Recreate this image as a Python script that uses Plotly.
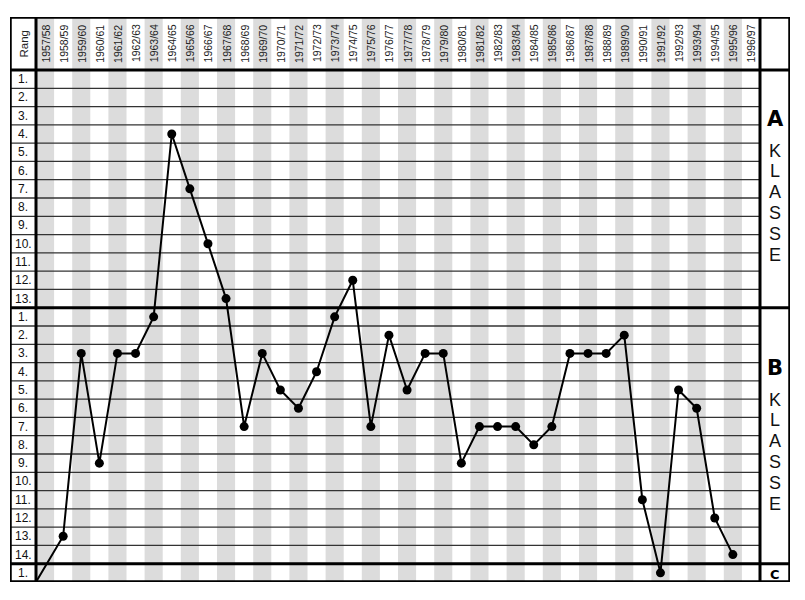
import plotly.graph_objects as go

seasons = ["1957/58", "1958/59", "1959/60", "1960/61", "1961/62", "1962/63", "1963/64",
           "1964/65", "1965/66", "1966/67", "1967/68", "1968/69", "1969/70", "1970/71",
           "1971/72", "1972/73", "1973/74", "1974/75", "1975/76", "1976/77", "1977/78",
           "1978/79", "1979/80", "1980/81", "1981/82", "1982/83", "1983/84", "1984/85",
           "1985/86", "1986/87", "1987/88", "1988/89", "1989/90", "1990/91", "1991/92",
           "1992/93", "1993/94", "1994/95", "1995/96", "1996/97"]
klasse = ["C", "B", "B", "B", "B", "B", "B",
          "A", "A", "A", "A", "B", "B", "B",
          "B", "B", "B", "A", "B", "B", "B",
          "B", "B", "B", "B", "B", "B", "B",
          "B", "B", "B", "B", "B", "B", "C",
          "B", "B", "B", "B", None]
rang = [1, 13, 3, 9, 3, 3, 1,
        4, 7, 10, 13, 7, 3, 5,
        6, 4, 1, 12, 7, 2, 5,
        3, 3, 9, 7, 7, 7, 8,
        7, 3, 3, 3, 2, 11, 1,
        5, 6, 12, 14, None]
class_sizes = {"A": 13, "B": 14, "C": 1}
class_order = ["A", "B", "C"]

# row index for each class/rank (row 1 = A 1.)
offsets = {}
acc = 0
for k in class_order:
    offsets[k] = acc
    acc += class_sizes[k]
n_rows = acc
n_cols = len(seasons)

def row_of(k, r):
    return offsets[k] + r

# geometry in data units
col_px = 724 / n_cols
row_px = 512 / n_rows
x_left = -0.5 - 26 / col_px
x_right = n_cols - 0.5 + 30 / col_px
y_top = 0.5 - 53 / row_px
y_bot = n_rows + 0.5
x_rang = -0.5 - 13 / col_px
x_lab = n_cols - 0.5 + 15 / col_px

xs, ys, msz = [], [], []
for i, (k, r) in enumerate(zip(klasse, rang)):
    if k is None:
        continue
    if i == 0:
        # entry into the chart from the lower-left corner of the first cell
        xs.append(i - 0.5)
        ys.append(row_of(k, r) + 0.5)
        msz.append(0)
    else:
        xs.append(i)
        ys.append(row_of(k, r))
        msz.append(9)

fig = go.Figure()
fig.add_trace(go.Scatter(x=xs, y=ys, mode="lines+markers",
                         line=dict(color="black", width=2),
                         marker=dict(color="black", size=msz, opacity=1,
                                     line=dict(color="black", width=0)),
                         opacity=1, hoverinfo="skip", showlegend=False))

shapes = []
# grey stripes
for i in range(n_cols):
    if i % 2 == 0:
        shapes.append(dict(type="rect", x0=i - 0.5, x1=i + 0.5, y0=y_top, y1=y_bot,
                           fillcolor="#dcdcdc", line=dict(width=0), layer="below"))
# horizontal lines
thick_y = [0.5] + [offsets[k] + 0.5 for k in class_order[1:]]
for r in range(1, n_rows):
    yb = r + 0.5
    if yb in thick_y:
        continue
    shapes.append(dict(type="line", x0=x_left, x1=n_cols - 0.5, y0=yb, y1=yb,
                       line=dict(color="#333333", width=1.3), layer="below"))
for yb in thick_y:
    shapes.append(dict(type="line", x0=x_left, x1=x_right, y0=yb, y1=yb,
                       line=dict(color="black", width=3)))
for xb in [-0.5, n_cols - 0.5]:
    shapes.append(dict(type="line", x0=xb, x1=xb, y0=y_top, y1=y_bot,
                       line=dict(color="black", width=3)))
shapes.append(dict(type="rect", x0=x_left, x1=x_right, y0=y_top, y1=y_bot,
                   line=dict(color="black", width=3.5)))

ann = []
font = "Liberation Sans, Arial, sans-serif"
for i, s in enumerate(seasons):
    ann.append(dict(x=i, y=0.2, text=s, textangle=-90, showarrow=False,
                    xanchor="center", yanchor="bottom",
                    font=dict(family=font, size=10.5, color="#222")))
ann.append(dict(x=x_rang, y=(y_top + 0.5) / 2, text="Rang", textangle=-90, showarrow=False,
                font=dict(family=font, size=11.5, color="#222")))
for k in class_order:
    for r in range(1, class_sizes[k] + 1):
        ann.append(dict(x=x_rang, y=row_of(k, r), text=f"{r}.", showarrow=False,
                        font=dict(family=font, size=12, color="#111")))

# class labels on the right
letter_step = 20.8 / row_px
head_pos = {"A": 119, "B": 368}
for k in ["A", "B"]:
    yh = 0.5 + (head_pos[k] - 70) / row_px
    ann.append(dict(x=x_lab, y=yh, text=f"<b>{k}</b>", showarrow=False,
                    font=dict(family="DejaVu Sans, Liberation Sans", size=21, color="black")))
    yk = yh + 31.5 / row_px
    for j, ch in enumerate("KLASSE"):
        ann.append(dict(x=x_lab, y=yk + j * letter_step, text=ch, showarrow=False,
                        font=dict(family=font, size=18, color="#111")))
ann.append(dict(x=x_lab, y=row_of("C", 1) + 0.1, text="<b>C</b>", showarrow=False,
                font=dict(family="DejaVu Sans, Liberation Sans", size=13, color="black")))

fig.update_layout(
    width=805, height=600,
    margin=dict(l=10, r=15, t=17, b=18),
    paper_bgcolor="white", plot_bgcolor="white",
    xaxis=dict(range=[x_left, x_right], visible=False, fixedrange=True),
    yaxis=dict(range=[y_bot, y_top], visible=False, fixedrange=True),
    shapes=shapes, annotations=ann,
)
fig.write_html("out.html", config={"displayModeBar": False},
               post_script="document.body.style.margin='0';")
